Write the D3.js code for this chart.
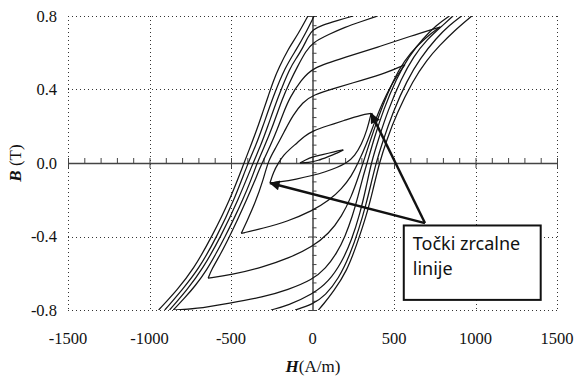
<!DOCTYPE html>
<html>
<head>
<meta charset="utf-8">
<script src="https://cdn.jsdelivr.net/npm/d3@7"></script>
<style>
  body { margin: 0; background: #fff; }
  svg { display: block; }
</style>
</head>
<body>
<div id="chart"></div>
<script>
// axis ticks
const xTicks = [-1500, -1000, -500, 0, 500, 1000, 1500];
const yTicks = [-0.8, -0.4, 0.0, 0.4, 0.8];

// hysteresis loops, [H (A/m), B (T)]
// upper = descending branch (upper tip -> lower tip), lower = ascending branch
const loop1Upper = [[189,0.071],[138,0.062],[56,0.044],[5,0.035],[-46,0.016],[-77,0.0]];
const loop1Lower = [[-77,0.0],[-26,0.002],[35,0.013],[97,0.035],[158,0.056],[189,0.071]];

const loop2Upper = [[360,0.27],[300,0.262],[190,0.23],[100,0.205],[0,0.175],[-50,0.145],[-95,0.109],[-140,0.075],[-175,0.045],[-210,0.0],[-240,-0.05],[-261,-0.109]];
const loop2Lower = [[-261,-0.109],[-200,-0.103],[-100,-0.088],[0,-0.068],[80,-0.048],[150,-0.025],[210,0.0],[260,0.04],[300,0.1],[335,0.18],[360,0.27]];

const loop3Upper = [[567,0.535],[450,0.49],[300,0.45],[150,0.41],[0,0.37],[-60,0.33],[-120,0.26],[-165,0.185],[-220,0.09],[-271,0.016],[-302,-0.093],[-353,-0.22],[-404,-0.32],[-437,-0.383]];
const loop3Lower = [[-437,-0.383],[-302,-0.355],[-158,-0.32],[0,-0.26],[100,-0.205],[180,-0.14],[240,-0.07],[280,0.0],[330,0.1],[380,0.22],[430,0.33],[480,0.42],[530,0.49],[567,0.535]];

const loop4Upper = [[782,0.74],[600,0.69],[400,0.63],[200,0.575],[0,0.52],[-70,0.45],[-138,0.36],[-180,0.27],[-215,0.185],[-260,0.09],[-310,0.0],[-360,-0.11],[-404,-0.2],[-460,-0.31],[-509,-0.4],[-560,-0.49],[-620,-0.58],[-640,-0.627]];
const loop4Lower = [[-640,-0.627],[-500,-0.61],[-300,-0.565],[-150,-0.52],[0,-0.455],[100,-0.385],[180,-0.29],[240,-0.18],[280,-0.08],[310,0.0],[350,0.11],[400,0.24],[460,0.38],[530,0.51],[600,0.6],[690,0.68],[782,0.74]];

const loop5Upper = [[400,0.8],[300,0.77],[200,0.74],[100,0.70],[0,0.655],[-40,0.61],[-95,0.52],[-140,0.44],[-181,0.36],[-250,0.185],[-295,0.09],[-340,0.0],[-380,-0.1],[-428,-0.2],[-480,-0.3],[-536,-0.4],[-590,-0.49],[-647,-0.58],[-720,-0.67],[-790,-0.74],[-854,-0.8]];
const loop5Lower = [[-854,-0.8],[-720,-0.795],[-506,-0.762],[-304,-0.73],[-150,-0.69],[0,-0.635],[80,-0.575],[150,-0.49],[200,-0.40],[245,-0.29],[280,-0.18],[305,-0.09],[335,0.0],[380,0.14],[435,0.29],[515,0.46],[590,0.58],[680,0.68],[760,0.75],[840,0.8]];

const loop6Upper = [[250,0.8],[150,0.775],[60,0.75],[0,0.725],[-25,0.69],[-58,0.63],[-95,0.575],[-138,0.52],[-211,0.36],[-280,0.185],[-320,0.09],[-365,0.0],[-455,-0.2],[-562,-0.4],[-676,-0.58],[-770,-0.69],[-877,-0.8]];
const loop6Lower = [[-255,-0.8],[-150,-0.775],[0,-0.715],[100,-0.645],[180,-0.54],[240,-0.42],[290,-0.28],[330,-0.13],[360,0.0],[405,0.13],[460,0.28],[545,0.46],[620,0.58],[700,0.67],[800,0.75],[862,0.8]];

const loop7Upper = [[10,0.8],[-46,0.70],[-97,0.62],[-169,0.52],[-242,0.36],[-310,0.185],[-350,0.09],[-396,0.0],[-480,-0.2],[-586,-0.4],[-700,-0.58],[-800,-0.69],[-906,-0.8]];
const loop7Lower = [[-107,-0.8],[0,-0.77],[80,-0.72],[160,-0.63],[230,-0.5],[285,-0.36],[330,-0.22],[360,-0.11],[390,0.0],[432,0.12],[490,0.27],[580,0.45],[660,0.57],[760,0.68],[840,0.75],[915,0.8]];

const loop8Upper = [[-28,0.8],[-89,0.70],[-150,0.62],[-205,0.52],[-240,0.448],[-273,0.36],[-302,0.285],[-340,0.185],[-383,0.085],[-420,0.0],[-506,-0.2],[-617,-0.4],[-731,-0.58],[-830,-0.69],[-944,-0.8]];
const loop8Lower = [[36,-0.8],[66,-0.77],[128,-0.70],[210,-0.59],[271,-0.446],[332,-0.283],[370,-0.15],[410,0.0],[455,0.125],[517,0.27],[617,0.45],[700,0.56],[780,0.64],[870,0.72],[977,0.8]];

const branches = [
  loop1Upper, loop1Lower, loop2Upper, loop2Lower, loop3Upper, loop3Lower,
  loop4Upper, loop4Lower, loop5Upper, loop5Lower, loop6Upper, loop6Lower,
  loop7Upper, loop7Lower, loop8Upper, loop8Lower,
];

// annotation box (data units) and the two arrow targets (tips of loop 2)
const noteText = ["Točki zrcalne", "linije"];
const noteBox = { h0: 560, h1: 1400, b0: -0.34, b1: -0.745 };
const noteTail = [690, -0.327];
const noteTargets = [loop2Upper[0], loop2Lower[0]];

const W = 578, H = 377;
const x = d3.scaleLinear().domain([-1500, 1500]).range([68, 557]);
const y = d3.scaleLinear().domain([-0.8, 0.8]).range([310, 16]);

const svg = d3.select("#chart").append("svg")
  .attr("width", W).attr("height", H)
  .attr("viewBox", `0 0 ${W} ${H}`);

const defs = svg.append("defs");
defs.append("clipPath").attr("id", "plot")
  .append("rect")
  .attr("x", x(-1500)).attr("y", y(0.8))
  .attr("width", x(1500) - x(-1500)).attr("height", y(-0.8) - y(0.8));

defs.append("marker")
  .attr("id", "head")
  .attr("viewBox", "0 0 10 10")
  .attr("refX", 9.5).attr("refY", 5)
  .attr("markerWidth", 5).attr("markerHeight", 4.2)
  .attr("markerUnits", "strokeWidth")
  .attr("orient", "auto")
  .append("path")
  .attr("d", "M0,0 L10,5 L0,10 Z")
  .attr("fill", "#111");

// dotted grid, includes the outer frame
const grid = svg.append("g")
  .attr("stroke", "#333")
  .attr("stroke-width", 1)
  .attr("stroke-dasharray", "1,3");

grid.selectAll("line.v")
  .data(xTicks.filter((d) => d !== 0))
  .join("line")
  .attr("class", "v")
  .attr("x1", (d) => Math.round(x(d)) + 0.5).attr("x2", (d) => Math.round(x(d)) + 0.5)
  .attr("y1", y(0.8)).attr("y2", y(-0.8));

grid.selectAll("line.h")
  .data(yTicks.filter((d) => d !== 0))
  .join("line")
  .attr("class", "h")
  .attr("y1", (d) => Math.round(y(d)) + 0.5).attr("y2", (d) => Math.round(y(d)) + 0.5)
  .attr("x1", x(-1500)).attr("x2", x(1500));

// axes through the origin with minor ticks
const xMinor = d3.range(-1500, 1501, 100);
const yMinor = d3.range(-16, 17).map((i) => i * 0.05);

const xAxis = svg.append("g")
  .attr("transform", `translate(0,${y(0)})`)
  .call(d3.axisTop(x).tickValues(xMinor).tickSize(5).tickSizeOuter(0).tickFormat(""));
xAxis.selectAll(".tick").filter((d) => d % 500 === 0)
  .append("line").attr("y1", 0).attr("y2", 5).attr("stroke", "currentColor");

const yAxis = svg.append("g")
  .attr("transform", `translate(${x(0)},0)`)
  .call(d3.axisRight(y).tickValues(yMinor).tickSize(4).tickSizeOuter(0).tickFormat(""));
yAxis.selectAll(".tick").filter((d) => Math.abs(d * 10 % 4) < 1e-6)
  .append("line").attr("x1", 0).attr("x2", -4).attr("stroke", "currentColor");

[xAxis, yAxis].forEach((a) => {
  a.attr("color", "#444");
  a.select(".domain").attr("stroke-width", 1.5);
  a.selectAll(".tick line").attr("stroke-width", 1);
});

// tick labels
const labelFont = "'Liberation Serif', 'Times New Roman', serif";
svg.append("g").selectAll("text")
  .data(xTicks)
  .join("text")
  .attr("x", (d) => x(d))
  .attr("y", 344)
  .attr("text-anchor", "middle")
  .style("font-family", labelFont)
  .style("font-size", "16.5px")
  .attr("fill", "#111")
  .text((d) => String(d));

svg.append("g").selectAll("text")
  .data(yTicks)
  .join("text")
  .attr("x", 57)
  .attr("y", (d) => y(d) + 5.5)
  .attr("text-anchor", "end")
  .style("font-family", labelFont)
  .style("font-size", "16.5px")
  .attr("fill", "#111")
  .text((d) => d.toFixed(1));

// axis titles
const xt = svg.append("text")
  .attr("x", 313).attr("y", 372)
  .attr("text-anchor", "middle")
  .style("font-family", labelFont)
  .style("font-size", "17px")
  .attr("fill", "#111");
xt.append("tspan").style("font-weight", "bold").style("font-style", "italic").text("H");
xt.append("tspan").text("(A/m)");

const yt = svg.append("text")
  .attr("transform", `translate(21,${y(0)}) rotate(-90)`)
  .attr("text-anchor", "middle")
  .style("font-family", labelFont)
  .style("font-size", "17px")
  .attr("fill", "#111");
yt.append("tspan").style("font-weight", "bold").style("font-style", "italic").text("B");
yt.append("tspan").text(" (T)");

// loops: basis spline keeps the tips exact and smooths the hand-read points
const line = d3.line()
  .x((d) => x(d[0]))
  .y((d) => y(d[1]))
  .curve(d3.curveBasis);

svg.append("g")
  .attr("clip-path", "url(#plot)")
  .selectAll("path")
  .data(branches)
  .join("path")
  .attr("d", line)
  .attr("fill", "none")
  .attr("stroke", "#151515")
  .attr("stroke-width", 1.25)
  .attr("stroke-linejoin", "round");

// arrows
svg.append("g").selectAll("line")
  .data(noteTargets)
  .join("line")
  .attr("x1", x(noteTail[0])).attr("y1", y(noteTail[1]))
  .attr("x2", (d) => x(d[0])).attr("y2", (d) => y(d[1]))
  .attr("stroke", "#111")
  .attr("stroke-width", 2.4)
  .attr("marker-end", "url(#head)");

// note box
svg.append("rect")
  .attr("x", x(noteBox.h0)).attr("y", y(noteBox.b0))
  .attr("width", x(noteBox.h1) - x(noteBox.h0))
  .attr("height", y(noteBox.b1) - y(noteBox.b0))
  .attr("fill", "#fff")
  .attr("stroke", "#111")
  .attr("stroke-width", 2);

svg.append("g").selectAll("text")
  .data(noteText)
  .join("text")
  .attr("x", x(noteBox.h0) + 9)
  .attr("y", (d, i) => 250 + i * 25)
  .style("font-family", "'Noto Sans', 'Open Sans', sans-serif")
  .style("font-size", "18px")
  .attr("fill", "#111")
  .text((d) => d);
</script>
</body>
</html>
